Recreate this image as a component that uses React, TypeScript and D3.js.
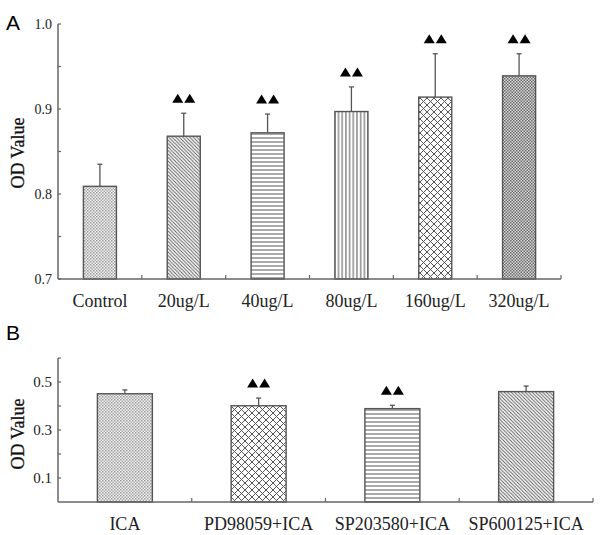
import React from 'react';
import * as d3 from 'd3';

const catsA = ['Control', '20ug/L', '40ug/L', '80ug/L', '160ug/L', '320ug/L'];
const valsA = [0.809, 0.868, 0.872, 0.897, 0.914, 0.939];
const errA = [0.026, 0.027, 0.022, 0.029, 0.051, 0.026];
const sigA = [false, true, true, true, true, true];
const patA = ['dots', 'diag', 'horiz', 'vert', 'cross', 'checker'];
const ticksA = [0.7, 0.75, 0.8, 0.85, 0.9, 0.95, 1.0];
const labelTicksA = [0.7, 0.8, 0.9, 1.0];

const catsB = ['ICA', 'PD98059+ICA', 'SP203580+ICA', 'SP600125+ICA'];
const valsB = [0.451, 0.401, 0.389, 0.46];
const errB = [0.016, 0.032, 0.014, 0.023];
const sigB = [false, true, true, false];
const patB = ['dots', 'cross', 'horiz', 'diag'];
const ticksB = [0.1, 0.2, 0.3, 0.4, 0.5, 0.6];
const labelTicksB = [0.1, 0.3, 0.5];

const AXIS = '#666';
const SERIF = '"Liberation Serif", "Times New Roman", serif';
const SANS = '"Liberation Sans", Arial, sans-serif';

function Patterns() {
  return (
    <defs>
      <pattern id="dots" width="3" height="3" patternUnits="userSpaceOnUse">
        <rect width="3" height="3" fill="#f4f4f4" />
        <rect x="0" y="0" width="1.5" height="1.5" fill="#999" />
        <rect x="1.5" y="1.5" width="1.5" height="1.5" fill="#aaa" />
      </pattern>
      <pattern id="checker" width="3" height="3" patternUnits="userSpaceOnUse">
        <rect width="3" height="3" fill="#ddd" />
        <rect x="0" y="0" width="1.5" height="1.5" fill="#666" />
        <rect x="1.5" y="1.5" width="1.5" height="1.5" fill="#666" />
      </pattern>
      <pattern id="diag" width="3.5" height="3.5" patternUnits="userSpaceOnUse">
        <rect width="3.5" height="3.5" fill="#fff" />
        <path d="M-1,-1 L4.5,4.5 M-1,2.5 L1,4.5 M2.5,-1 L4.5,1" stroke="#555" strokeWidth="0.9" />
      </pattern>
      <pattern id="horiz" width="6" height="4" patternUnits="userSpaceOnUse">
        <rect width="6" height="4" fill="#fff" />
        <line x1="0" y1="2" x2="6" y2="2" stroke="#555" strokeWidth="1" />
      </pattern>
      <pattern id="vert" width="3.7" height="6" patternUnits="userSpaceOnUse">
        <rect width="3.7" height="6" fill="#fff" />
        <line x1="1.8" y1="0" x2="1.8" y2="6" stroke="#555" strokeWidth="1" />
      </pattern>
      <pattern id="cross" width="7" height="7" patternUnits="userSpaceOnUse">
        <rect width="7" height="7" fill="#fff" />
        <path d="M0,0 L7,7 M7,0 L0,7" stroke="#555" strokeWidth="1" />
      </pattern>
    </defs>
  );
}

function Triangles({ cx, cy }: { cx: number; cy: number }) {
  const w = 11, h = 9;
  const tri = (x: number) => `M${x - w / 2},${cy + h / 2} L${x},${cy - h / 2} L${x + w / 2},${cy + h / 2} Z`;
  return (
    <g fill="#000">
      <path d={tri(cx - 6)} />
      <path d={tri(cx + 6)} />
    </g>
  );
}

type PanelProps = {
  cats: string[]; vals: number[]; errs: number[]; sig: boolean[]; pats: string[];
  domain: [number, number]; yRange: [number, number]; xRange: [number, number];
  barFrac: number; ticks: number[]; labelTicks: number[]; tickFont: number;
  catBaseline: number; yLabelY: number; letter: string; letterY: number;
};

function Panel(p: PanelProps) {
  const y = d3.scaleLinear().domain(p.domain).range(p.yRange);
  const pad = 1 - p.barFrac;
  const x = d3.scaleBand<string>().domain(p.cats).range(p.xRange).paddingInner(pad).paddingOuter(pad / 2);
  const step = x.step();
  const x0 = p.xRange[0];
  const bw = x.bandwidth();
  const base = p.yRange[0];
  return (
    <g>
      <text x={6} y={p.letterY} fontFamily={SANS} fontSize={21}>{p.letter}</text>
      <text transform={`translate(24,${p.yLabelY}) rotate(-90)`} textAnchor="middle" fontFamily={SERIF} fontSize={18} fill="#111" stroke="#111" strokeWidth={0.3}>OD Value</text>
      {p.cats.map((c, i) => {
        const bx = x(c)!;
        const cx = bx + bw / 2;
        const top = y(p.vals[i]);
        const et = y(p.vals[i] + p.errs[i]);
        return (
          <g key={c}>
            <line x1={cx} x2={cx} y1={top} y2={et} stroke="#555" strokeWidth={1.3} />
            <line x1={cx - 2.5} x2={cx + 2.5} y1={et} y2={et} stroke="#555" strokeWidth={1.3} />
            <rect x={bx} y={top} width={bw} height={base - top} fill={`url(#${p.pats[i]})`} stroke="#555" strokeWidth={1.4} />
            {p.sig[i] && <Triangles cx={cx} cy={et - 15} />}
            <text x={cx} y={p.catBaseline} textAnchor="middle" fontFamily={SERIF} fontSize={18} fill="#222">{c}</text>
          </g>
        );
      })}
      <line x1={x0} x2={x0} y1={y(p.domain[1])} y2={base} stroke={AXIS} strokeWidth={1.5} />
      <line x1={x0} x2={p.xRange[1]} y1={base} y2={base} stroke={AXIS} strokeWidth={1.5} />
      {p.ticks.map((t) => (
        <line key={t} x1={x0} x2={x0 + 3} y1={y(t)} y2={y(t)} stroke={AXIS} strokeWidth={1.2} />
      ))}
      {p.labelTicks.map((t) => (
        <text key={t} x={x0 - 6} y={y(t)} dy="0.35em" textAnchor="end" fontFamily={SERIF} fontSize={p.tickFont} fill="#222">{t.toFixed(1)}</text>
      ))}
      {p.cats.map((c, i) => (
        <line key={c} x1={x0 + step * (i + 1)} x2={x0 + step * (i + 1)} y1={base} y2={base - 4} stroke={AXIS} strokeWidth={1.2} />
      ))}
    </g>
  );
}

export default function App() {
  return (
    <svg width={600} height={535} style={{ position: 'absolute', left: 0, top: 0, background: '#fff' }}>
      <Patterns />
      <rect width={600} height={535} fill="#fff" />
      <Panel cats={catsA} vals={valsA} errs={errA} sig={sigA} pats={patA}
        domain={[0.7, 1.0]} yRange={[279, 24]} xRange={[58, 561]} barFrac={0.394}
        ticks={ticksA} labelTicks={labelTicksA} tickFont={14}
        catBaseline={307} yLabelY={153} letter="A" letterY={30} />
      <Panel cats={catsB} vals={valsB} errs={errB} sig={sigB} pats={patB}
        domain={[0, 0.6]} yRange={[502, 358]} xRange={[58, 593]} barFrac={0.411}
        ticks={ticksB} labelTicks={labelTicksB} tickFont={15}
        catBaseline={530} yLabelY={434} letter="B" letterY={340} />
    </svg>
  );
}
